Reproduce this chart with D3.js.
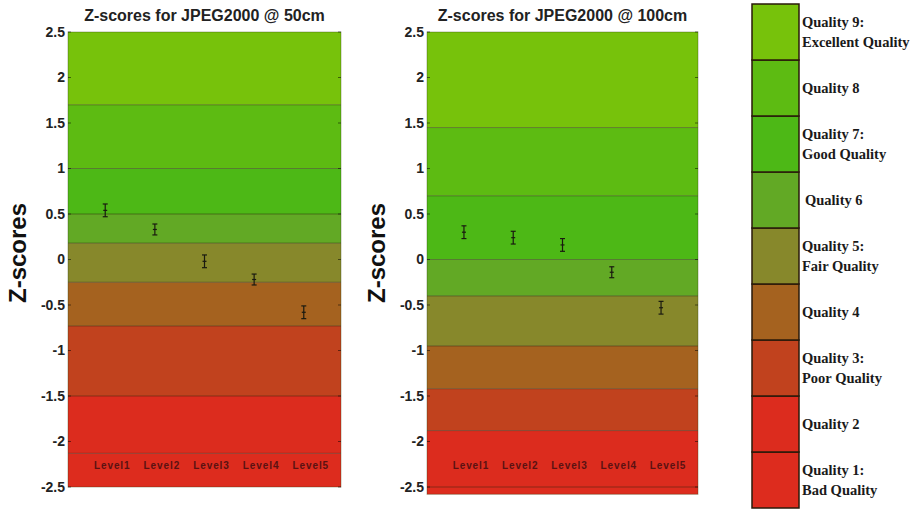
<!DOCTYPE html>
<html>
<head>
<script src="https://d3js.org/d3.v7.min.js"></script>
<style>
  body { margin: 0; background: #fff; }
  svg { display: block; }
  .tick text { font-family: "Liberation Sans", Arial, sans-serif; font-weight: bold; font-size: 14px; fill: #222; }
</style>
</head>
<body>
<div id="chart"></div>
<script>
// ---- data ----
var levels = ["Level1", "Level2", "Level3", "Level4", "Level5"];
var z50 = [0.54, 0.33, -0.02, -0.22, -0.58];
var err50 = [0.07, 0.06, 0.07, 0.06, 0.07];
var z100 = [0.30, 0.24, 0.16, -0.14, -0.53];
var err100 = [0.07, 0.07, 0.07, 0.06, 0.07];

// band edges, quality 1 (bottom) .. quality 9 (top)
var bands50 = [-2.5, -2.13, -1.5, -0.73, -0.25, 0.18, 0.5, 1.0, 1.7, 2.5];
var bands100 = [-2.58, -2.5, -1.88, -1.42, -0.95, -0.4, 0.0, 0.7, 1.45, 2.5];

var qualityLabels = [
  ["Quality 1:", "Bad Quality"],
  ["Quality 2"],
  ["Quality 3:", "Poor Quality"],
  ["Quality 4"],
  ["Quality 5:", "Fair Quality"],
  ["Quality 6"],
  ["Quality 7:", "Good Quality"],
  ["Quality 8"],
  ["Quality 9:", "Excellent Quality"]
];
var qualityColors = ["#dd2c1e", "#dc2c1e", "#c1421e", "#a5621f", "#87882b", "#62a925", "#4db816", "#5dbb12", "#77c20b"];

var yTicks = [-2.5, -2, -1.5, -1, -0.5, 0, 0.5, 1, 1.5, 2, 2.5];

var width = 918, height = 509;

var svg = d3.select("#chart").append("svg")
  .attr("width", width)
  .attr("height", height);

function drawPanel(opts) {
  var x = d3.scaleLinear().domain([0.25, 5.75]).range([opts.left, opts.right]);
  var y = d3.scaleLinear().domain([-2.5, 2.5]).range([487, 32]);
  var g = svg.append("g");

  // coloured quality bands
  var bandData = d3.range(opts.bands.length - 1).map(function(i) {
    return { lo: opts.bands[i], hi: opts.bands[i + 1], color: qualityColors[i] };
  });
  g.selectAll("rect.band").data(bandData).enter().append("rect")
    .attr("class", "band")
    .attr("x", opts.left)
    .attr("width", opts.right - opts.left)
    .attr("y", function(d) { return y(d.hi); })
    .attr("height", function(d) { return y(d.lo) - y(d.hi); })
    .attr("fill", function(d) { return d.color; });

  // band boundaries
  g.selectAll("line.edge").data(opts.bands.slice(1, -1)).enter().append("line")
    .attr("x1", opts.left).attr("x2", opts.right)
    .attr("y1", function(d) { return y(d); })
    .attr("y2", function(d) { return y(d); })
    .attr("stroke", "rgba(40,30,10,0.45)")
    .attr("stroke-width", 1);

  // frame
  g.append("rect")
    .attr("x", opts.left).attr("y", y(2.5))
    .attr("width", opts.right - opts.left)
    .attr("height", y(opts.bands[0]) - y(2.5))
    .attr("fill", "none")
    .attr("stroke", "rgba(40,60,10,0.35)");

  // y axis (labels) + inner ticks on both sides
  var axis = g.append("g")
    .attr("transform", "translate(" + opts.left + ",0)")
    .call(d3.axisLeft(y).tickValues(yTicks).tickSize(0).tickPadding(3)
      .tickFormat(function(d) { return String(d); }));
  axis.select(".domain").remove();

  g.selectAll("line.tl").data(yTicks).enter().append("line")
    .attr("x1", opts.left).attr("x2", opts.left + 3)
    .attr("y1", function(d) { return y(d); }).attr("y2", function(d) { return y(d); })
    .attr("stroke", "rgba(0,0,0,0.5)");
  g.selectAll("line.tr").data(yTicks).enter().append("line")
    .attr("x1", opts.right - 3).attr("x2", opts.right)
    .attr("y1", function(d) { return y(d); }).attr("y2", function(d) { return y(d); })
    .attr("stroke", "rgba(0,0,0,0.5)");

  // title
  g.append("text")
    .attr("x", (opts.left + opts.right) / 2)
    .attr("y", 21)
    .attr("text-anchor", "middle")
    .style("font-family", "Liberation Sans, Arial, sans-serif")
    .style("font-weight", "bold")
    .style("font-size", "16px")
    .attr("fill", "#222")
    .text(opts.title);

  // y label
  g.append("text")
    .attr("transform", "translate(" + (opts.left - 42) + "," + 253 + ") rotate(-90)")
    .attr("text-anchor", "middle")
    .style("font-family", "Liberation Sans, Arial, sans-serif")
    .style("font-weight", "bold")
    .style("font-size", "24px")
    .attr("fill", "#111")
    .text("Z-scores");

  // level labels inside the plot
  g.selectAll("text.lvl").data(levels).enter().append("text")
    .attr("x", function(d, i) { return x(i + 1) + 7; })
    .attr("y", 469)
    .attr("text-anchor", "middle")
    .style("font-family", "Liberation Sans, Arial, sans-serif")
    .style("font-weight", "bold")
    .style("font-size", "10px")
    .style("letter-spacing", "0.9px")
    .attr("fill", "#5a1212")
    .text(function(d) { return d; });

  // error bars
  var pts = opts.values.map(function(v, i) { return { i: i + 1, v: v, e: opts.errors[i] }; });
  var eb = g.selectAll("g.eb").data(pts).enter().append("g")
    .attr("stroke", "#1a1a10")
    .attr("stroke-width", 1.2);
  eb.append("line")
    .attr("x1", function(d) { return x(d.i); }).attr("x2", function(d) { return x(d.i); })
    .attr("y1", function(d) { return y(d.v + d.e); }).attr("y2", function(d) { return y(d.v - d.e); });
  eb.append("line")
    .attr("x1", function(d) { return x(d.i) - 2.5; }).attr("x2", function(d) { return x(d.i) + 2.5; })
    .attr("y1", function(d) { return y(d.v + d.e); }).attr("y2", function(d) { return y(d.v + d.e); });
  eb.append("line")
    .attr("x1", function(d) { return x(d.i) - 2.5; }).attr("x2", function(d) { return x(d.i) + 2.5; })
    .attr("y1", function(d) { return y(d.v - d.e); }).attr("y2", function(d) { return y(d.v - d.e); });
  eb.append("line")
    .attr("x1", function(d) { return x(d.i) - 2; }).attr("x2", function(d) { return x(d.i) + 2; })
    .attr("y1", function(d) { return y(d.v); }).attr("y2", function(d) { return y(d.v); });
}

drawPanel({ left: 68, right: 341, bands: bands50, values: z50, errors: err50, title: "Z-scores for JPEG2000 @ 50cm" });
drawPanel({ left: 427, right: 698, bands: bands100, values: z100, errors: err100, title: "Z-scores for JPEG2000 @ 100cm" });

// ---- quality legend ----
var lg = svg.append("g");
var ly = d3.scaleLinear().domain([9, 0]).range([4, 508]);
var legendData = qualityLabels.map(function(l, i) { return { q: i, lines: l, color: qualityColors[i] }; });

lg.selectAll("rect").data(legendData).enter().append("rect")
  .attr("x", 752).attr("width", 47)
  .attr("y", function(d) { return ly(d.q + 1); })
  .attr("height", function(d) { return ly(d.q) - ly(d.q + 1); })
  .attr("fill", function(d) { return d.color; })
  .attr("stroke", "#2a1a0a")
  .attr("stroke-width", 1.5);

var lt = lg.selectAll("text").data(legendData).enter().append("text")
  .attr("x", function(d) { return d.q === 5 ? 805 : 802; })
  .attr("y", function(d) { return (ly(d.q) + ly(d.q + 1)) / 2 + 5 - (d.lines.length - 1) * 10; })
  .style("font-family", "Liberation Serif, 'Times New Roman', serif")
  .style("font-weight", "bold")
  .style("font-size", "14.5px")
  .attr("fill", "#1a1a1a");
lt.selectAll("tspan").data(function(d) { return d.lines; }).enter().append("tspan")
  .attr("x", function() { return d3.select(this.parentNode).attr("x"); })
  .attr("dy", function(d, i) { return i === 0 ? 0 : 20; })
  .text(function(d) { return d; });
</script>
</body>
</html>
